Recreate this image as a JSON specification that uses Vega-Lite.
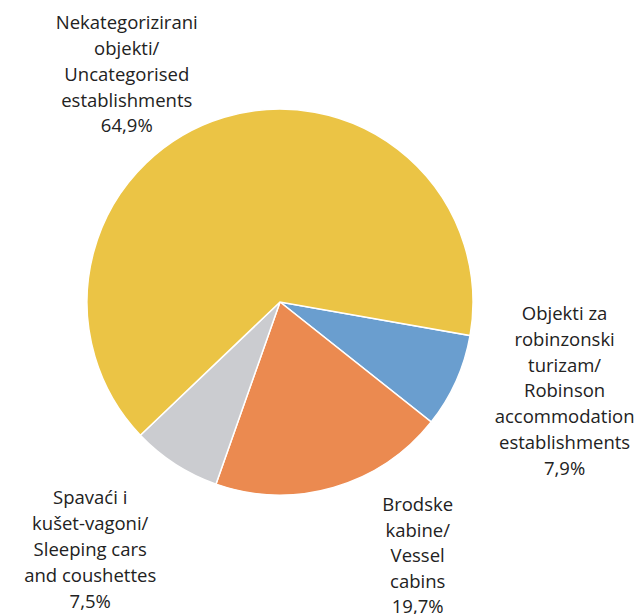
{
  "$schema": "https://vega.github.io/schema/vega-lite/v6.json",
  "autosize": "none",
  "width": 386,
  "height": 386,
  "padding": {"left": 87, "top": 109, "right": 169, "bottom": 119},
  "background": "white",
  "config": {"view": {"stroke": null}},
  "data": {
    "values": [
      {"key": "rob", "order": 1, "value": 7.9, "label": "Objekti za\nrobinzonski\nturizam/\nRobinson\naccommodation\nestablishments\n7,9%"},
      {"key": "ves", "order": 2, "value": 19.7, "label": "Brodske\nkabine/\nVessel\ncabins\n19,7%"},
      {"key": "sle", "order": 3, "value": 7.5, "label": "Spavaći i\nkušet-vagoni/\nSleeping cars\nand coushettes\n7,5%"},
      {"key": "unc", "order": 4, "value": 64.9, "label": "Nekategorizirani\nobjekti/\nUncategorised\nestablishments\n64,9%"}
    ]
  },
  "encoding": {
    "theta": {"field": "value", "type": "quantitative", "stack": true, "scale": {"range": [1.7453, 8.0285]}},
    "order": {"field": "order", "type": "quantitative"}
  },
  "layer": [
    {
      "mark": {"type": "arc", "stroke": "white", "strokeWidth": 1.5},
      "encoding": {
        "color": {
          "field": "key", "type": "nominal", "legend": null,
          "scale": {"domain": ["rob", "ves", "sle", "unc"], "range": ["#6A9ECF", "#EB8A50", "#CBCCD0", "#EBC445"]}
        }
      }
    },
    {
      "mark": {"type": "text", "radius": 300, "dx": 11, "dy": -111, "font": "Open Sans", "fontSize": 18.5, "lineHeight": 25.8, "lineBreak": "\n", "align": "center", "baseline": "middle", "color": "#222222"},
      "encoding": {"text": {"condition": {"test": "datum.key === 'rob'", "field": "label"}, "value": ""}}
    },
    {
      "mark": {"type": "text", "radius": 280, "dx": 60, "dy": -66, "font": "Open Sans", "fontSize": 18.5, "lineHeight": 25.5, "lineBreak": "\n", "align": "center", "baseline": "middle", "color": "#222222"},
      "encoding": {"text": {"condition": {"test": "datum.key === 'ves'", "field": "label"}, "value": ""}}
    },
    {
      "mark": {"type": "text", "radius": 300, "dx": -27, "dy": -56, "font": "Open Sans", "fontSize": 18.5, "lineHeight": 26, "lineBreak": "\n", "align": "center", "baseline": "middle", "color": "#222222"},
      "encoding": {"text": {"condition": {"test": "datum.key === 'sle'", "field": "label"}, "value": ""}}
    },
    {
      "mark": {"type": "text", "radius": 260, "dx": -78, "dy": -30, "font": "Open Sans", "fontSize": 18.5, "lineHeight": 25.8, "lineBreak": "\n", "align": "center", "baseline": "middle", "color": "#222222"},
      "encoding": {"text": {"condition": {"test": "datum.key === 'unc'", "field": "label"}, "value": ""}}
    }
  ]
}
